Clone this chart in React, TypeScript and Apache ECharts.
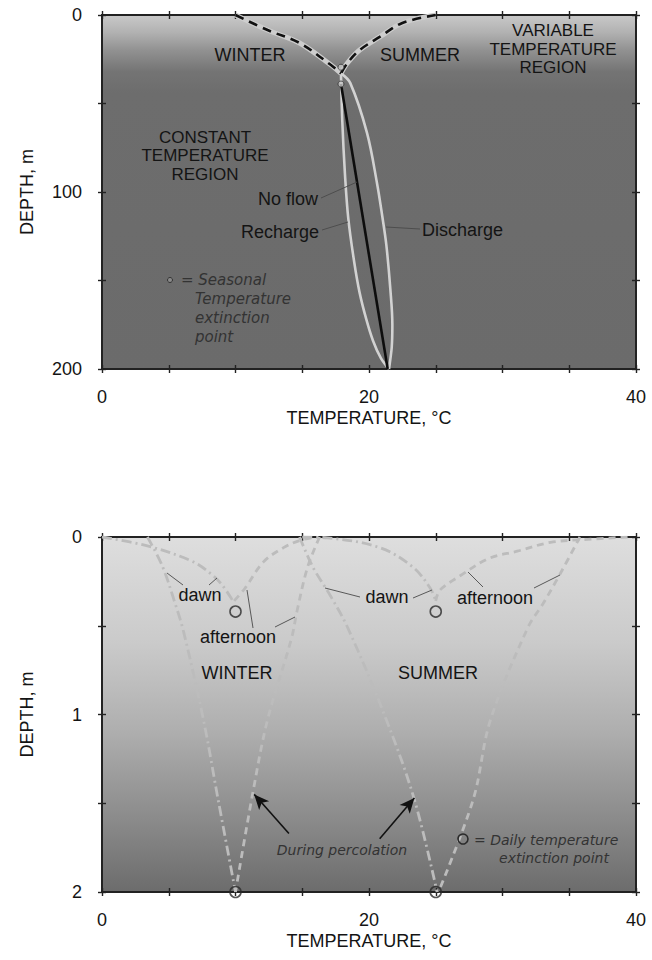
import React, { useEffect, useRef } from "react";
import * as echarts from "echarts";

// ---------- data ----------
const xTickLabels = [0, 20, 40];
const topDepthLabels = [0, 100, 200];
const bottomDepthLabels = [0, 1, 2];

// Top panel (seasonal), [temperature °C, depth m]
const seasonalWinter = [[10, 0], [12.4, 8.5], [14.8, 15.8], [17.1, 28], [17.9, 33]];
const seasonalSummer = [[25, 0], [22.5, 4.5], [20.8, 12.4], [19.3, 19.8], [18.4, 27], [17.9, 33]];
const rechargeProfile = [[17.9, 33], [18.0, 60], [18.2, 90], [18.45, 115], [18.9, 140], [19.3, 157], [19.8, 172], [20.3, 184], [20.9, 194], [21.5, 200]];
const dischargeProfile = [[17.9, 33], [18.6, 38.5], [19.85, 66.6], [20.6, 95], [21.0, 114], [21.3, 130], [21.6, 155], [21.75, 175], [21.7, 188], [21.5, 200]];
const noFlowProfile = [[17.9, 39], [21.4, 200]];
const seasonalExtinction = [[17.9, 29.5], [17.9, 39]];

// Bottom panel (daily), [temperature °C, depth m]
const winterDawn = [[0, 0], [3.4, 0.05], [6.7, 0.135], [8.2, 0.21], [9.0, 0.27], [9.8, 0.36]];
const winterAfternoon = [[9.9, 0.36], [10.7, 0.29], [12.1, 0.14], [13.6, 0.06], [14.8, 0.02], [16, 0]];
const winterPercDawn = [[3.4, 0], [4.5, 0.16], [5.5, 0.38], [6.1, 0.53], [7.6, 1.03], [8.7, 1.48], [10, 2]];
const winterPercAfternoon = [[16.3, 0], [15.4, 0.17], [14.6, 0.42], [14.2, 0.57], [12.4, 1.03], [11.3, 1.44], [10, 2]];
const summerDawn = [[15, 0], [16.9, 0.005], [20.8, 0.06], [23.3, 0.17], [24.6, 0.29], [25.0, 0.36]];
const summerAfternoon = [[25.0, 0.36], [25.3, 0.3], [26.8, 0.22], [29, 0.12], [31.1, 0.08], [33.6, 0.03], [36, 0.015], [39.5, 0]];
const summerPercDawn = [[14.8, 0], [15.8, 0.17], [17.1, 0.33], [18.4, 0.51], [21.3, 1.03], [23.4, 1.48], [25.1, 2]];
const summerPercAfternoon = [[35.8, 0], [34.3, 0.21], [33, 0.38], [31.9, 0.51], [29.1, 1.03], [27.8, 1.48], [25.2, 2]];
const dailyExtinction = [[10, 0.42], [25, 0.42], [10, 2], [25, 2]];
const percolationArrows = [
  [[14.0, 1.67], [11.4, 1.45]],
  [[20.8, 1.7], [23.4, 1.47]],
];

// ---------- styling helpers ----------
const SANS = "'Liberation Sans', Arial, Helvetica, sans-serif";
const HAND = "'DejaVu Sans', sans-serif";
const AX = "#222222";
const TXT = "#141414";
const PROFILE = "#bcbcbc";
const DASH = [7, 5];
const DASHDOT = [10, 4, 2, 4];

function xAxis(gridIndex: number, position: string, inside: boolean, labels: boolean) {
  return {
    type: "value",
    gridIndex,
    position,
    min: 0,
    max: 40,
    interval: 5,
    name: labels ? "TEMPERATURE, °C" : "",
    nameLocation: "middle",
    nameGap: 40,
    nameTextStyle: { fontFamily: SANS, fontSize: 18, color: TXT },
    axisLine: { show: true, onZero: false, lineStyle: { color: AX, width: 1.8 } },
    axisTick: { show: true, inside, length: 4, lineStyle: { color: AX, width: 1.4 } },
    axisLabel: {
      show: labels,
      margin: 19,
      fontFamily: SANS,
      fontSize: 18,
      color: TXT,
      formatter: (v: number) => (xTickLabels.includes(v) ? String(v) : ""),
    },
    splitLine: { show: false },
  };
}

function yAxis(gridIndex: number, position: string, inside: boolean, labels: boolean, max: number, interval: number, tickLabels: number[]) {
  return {
    type: "value",
    gridIndex,
    position,
    inverse: true,
    min: 0,
    max,
    interval,
    name: labels ? "DEPTH, m" : "",
    nameLocation: "middle",
    nameGap: 66,
    nameTextStyle: { fontFamily: SANS, fontSize: 18, color: TXT },
    axisLine: { show: true, onZero: false, lineStyle: { color: AX, width: 1.8 } },
    axisTick: { show: true, inside, length: 4, lineStyle: { color: AX, width: 1.4 } },
    axisLabel: {
      show: labels,
      margin: 20,
      fontFamily: SANS,
      fontSize: 18,
      color: TXT,
      formatter: (v: number) => (tickLabels.includes(v) ? String(v) : ""),
    },
    splitLine: { show: false },
  };
}

function line(name: string, data: number[][], xi: number, yi: number, color: string, width: number, type: any, z = 2, smooth: any = 0.35) {
  return {
    name,
    type: "line",
    xAxisIndex: xi,
    yAxisIndex: yi,
    data,
    smooth,
    showSymbol: false,
    symbol: "none",
    silent: true,
    z,
    lineStyle: { color, width, type, cap: "butt" },
  };
}

function label(text: string, x: number, y: number, align = "center", font = SANS, size = 18, color = TXT, style = "normal") {
  return {
    type: "text",
    x,
    y,
    z: 50,
    style: {
      text,
      fill: color,
      font: `${style} ${size}px ${font}`,
      align,
      verticalAlign: "middle",
    },
  };
}

// stacked lines as separate text elements
function stack(lines: string[], x: number, yFirst: number, step: number, align = "center", font = SANS, size = 17, color = TXT, style = "normal") {
  return lines.map((t, i) => label(t, x, yFirst + i * step, align, font, size, color, style));
}

function leader(x1: number, y1: number, x2: number, y2: number) {
  return {
    type: "line",
    z: 40,
    shape: { x1, y1, x2, y2 },
    style: { stroke: "#4a4a4a", lineWidth: 0.9 },
  };
}

export default function App() {
  const ref = useRef<HTMLDivElement>(null);

  useEffect(() => {
    if (!ref.current) return;
    const chart = echarts.init(ref.current, undefined, { renderer: "svg" });

    const topBg = new echarts.graphic.LinearGradient(0, 0, 0, 1, [
      { offset: 0, color: "#c9c9c9" },
      { offset: 0.05, color: "#b1b1b1" },
      { offset: 0.1, color: "#919191" },
      { offset: 0.16, color: "#747474" },
      { offset: 0.22, color: "#6d6d6d" },
      { offset: 1, color: "#6b6b6b" },
    ]);
    const bottomBg = new echarts.graphic.LinearGradient(0, 0, 0, 1, [
      { offset: 0, color: "#dedede" },
      { offset: 0.3, color: "#cacaca" },
      { offset: 0.55, color: "#aeaeae" },
      { offset: 0.8, color: "#8a8a8a" },
      { offset: 1, color: "#6c6c6c" },
    ]);

    const option: any = {
      animation: false,
      backgroundColor: "#ffffff",
      grid: [
        { left: 102, right: 16, top: 15, height: 354, show: true, backgroundColor: topBg, borderWidth: 0 },
        { left: 102, right: 16, top: 537, height: 355, show: true, backgroundColor: bottomBg, borderWidth: 0 },
      ],
      xAxis: [
        xAxis(0, "bottom", false, true),
        xAxis(0, "bottom", true, false),
        xAxis(0, "top", false, false),
        xAxis(0, "top", true, false),
        xAxis(1, "bottom", false, true),
        xAxis(1, "bottom", true, false),
        xAxis(1, "top", false, false),
        xAxis(1, "top", true, false),
      ],
      yAxis: [
        yAxis(0, "left", false, true, 200, 50, topDepthLabels),
        yAxis(0, "left", true, false, 200, 50, topDepthLabels),
        yAxis(0, "right", false, false, 200, 50, topDepthLabels),
        yAxis(0, "right", true, false, 200, 50, topDepthLabels),
        yAxis(1, "left", false, true, 2, 0.5, bottomDepthLabels),
        yAxis(1, "left", true, false, 2, 0.5, bottomDepthLabels),
        yAxis(1, "right", false, false, 2, 0.5, bottomDepthLabels),
        yAxis(1, "right", true, false, 2, 0.5, bottomDepthLabels),
      ],
      series: [
        // top panel
        line("Winter (underlay)", seasonalWinter, 0, 0, "#cdcdcd", 5, "solid", 3),
        line("Winter", seasonalWinter, 0, 0, "#111111", 2.6, [9, 6], 4),
        line("Summer (underlay)", seasonalSummer, 0, 0, "#cdcdcd", 5, "solid", 3),
        line("Summer", seasonalSummer, 0, 0, "#111111", 2.6, [9, 6], 4),
        line("Recharge", rechargeProfile, 0, 0, "#d2d2d2", 2.6, "solid", 3),
        line("Discharge", dischargeProfile, 0, 0, "#d2d2d2", 2.6, "solid", 3),
        line("No flow", noFlowProfile, 0, 0, "#0d0d0d", 2.6, "solid", 4, false),
        {
          name: "Seasonal extinction",
          type: "scatter",
          xAxisIndex: 0,
          yAxisIndex: 0,
          data: seasonalExtinction,
          symbol: "circle",
          symbolSize: 6,
          silent: true,
          z: 6,
          itemStyle: { color: "#c8c8c8", borderColor: "#333333", borderWidth: 1 },
        },
        // bottom panel
        line("Winter dawn", winterDawn, 4, 4, PROFILE, 2.8, DASHDOT),
        line("Winter afternoon", winterAfternoon, 4, 4, PROFILE, 2.8, DASH),
        line("Winter percolation dawn", winterPercDawn, 4, 4, PROFILE, 2.8, DASHDOT),
        line("Winter percolation afternoon", winterPercAfternoon, 4, 4, PROFILE, 2.8, DASH),
        line("Summer dawn", summerDawn, 4, 4, PROFILE, 2.8, DASHDOT),
        line("Summer afternoon", summerAfternoon, 4, 4, PROFILE, 2.8, DASH),
        line("Summer percolation dawn", summerPercDawn, 4, 4, PROFILE, 2.8, DASHDOT),
        line("Summer percolation afternoon", summerPercAfternoon, 4, 4, PROFILE, 2.8, DASH),
        {
          name: "Daily extinction",
          type: "scatter",
          xAxisIndex: 4,
          yAxisIndex: 4,
          data: dailyExtinction,
          symbol: "circle",
          symbolSize: 11,
          silent: true,
          z: 6,
          itemStyle: { color: "rgba(0,0,0,0)", borderColor: "#2a2a2a", borderWidth: 1.6 },
          markLine: {
            silent: true,
            symbol: ["none", "arrow"],
            symbolSize: [10, 15],
            label: { show: false },
            lineStyle: { color: "#111111", width: 1.6, type: "solid" },
            data: percolationArrows.map(([a, b]) => [{ coord: a }, { coord: b }]),
          },
        },
      ],
      graphic: [
        // top panel texts
        label("WINTER", 250, 55),
        label("SUMMER", 420, 55),
        ...stack(["VARIABLE", "TEMPERATURE", "REGION"], 553, 30.5, 18.5),
        ...stack(["CONSTANT", "TEMPERATURE", "REGION"], 205, 137, 18.5),
        label("No flow", 318, 199, "right"),
        label("Recharge", 319, 232, "right"),
        label("Discharge", 422, 230, "left"),
        leader(321, 198, 357, 182),
        leader(322, 230, 348, 222),
        leader(386, 227, 420, 229),
        {
          type: "circle",
          z: 50,
          shape: { cx: 170, cy: 280, r: 2.5 },
          style: { fill: "#8a8a8a", stroke: "#333333", lineWidth: 1 },
        },
        label("= Seasonal", 181, 280, "left", HAND, 15, "#333333", "italic"),
        ...stack(["Temperature", "extinction", "point"], 195, 299, 18.8, "left", HAND, 15, "#333333", "italic"),
        // bottom panel texts
        label("dawn", 200, 595),
        label("afternoon", 238, 637),
        label("WINTER", 237, 673),
        label("SUMMER", 438, 673),
        label("dawn", 387, 597),
        label("afternoon", 495, 598),
        leader(167, 573, 183, 585),
        leader(209, 585, 217, 578),
        leader(247, 590, 253, 628),
        leader(275, 627, 295, 617),
        leader(325, 588, 360, 597),
        leader(413, 598, 432, 590),
        leader(468, 572, 483, 587),
        leader(534, 588, 560, 575),
        label("During percolation", 342, 850, "center", HAND, 14, "#333333", "italic"),
        {
          type: "circle",
          z: 50,
          shape: { cx: 463, cy: 839, r: 5 },
          style: { fill: "none", stroke: "#2a2a2a", lineWidth: 1.6 },
        },
        label("= Daily temperature", 474, 840, "left", HAND, 14, "#333333", "italic"),
        label("extinction point", 554, 858, "center", HAND, 14, "#333333", "italic"),
      ],
    };

    chart.setOption(option);
    return () => chart.dispose();
  }, []);

  return (
    <div
      ref={ref}
      style={{ position: "fixed", left: 0, top: 0, width: 652, height: 960, background: "#fff" }}
    />
  );
}
